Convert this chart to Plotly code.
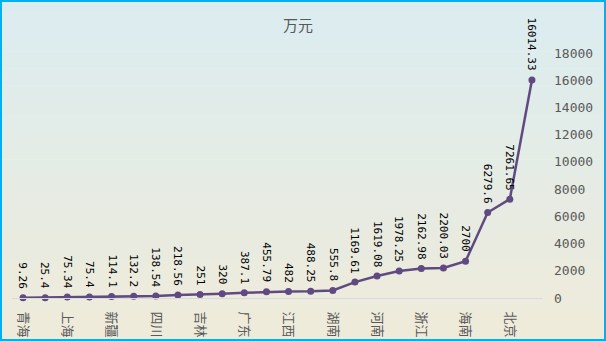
import plotly.graph_objects as go

# Province labels shown on every second tick, and values (万元) for all 24 points
tick_labels = ["青海", "上海", "新疆", "四川", "吉林", "广东",
               "江西", "湖南", "河南", "浙江", "海南", "北京"]
values = [9.26, 25.4, 75.34, 75.4, 114.1, 132.2, 138.54, 218.56, 251, 320,
          387.1, 455.79, 482, 488.25, 555.8, 1169.61, 1619.08, 1978.25,
          2162.98, 2200.03, 2700, 6279.6, 7261.65, 16014.33]
value_text = ["9.26", "25.4", "75.34", "75.4", "114.1", "132.2", "138.54",
              "218.56", "251", "320", "387.1", "455.79", "482", "488.25",
              "555.8", "1169.61", "1619.08", "1978.25", "2162.98", "2200.03",
              "2700", "6279.6", "7261.65", "16014.33"]
y_ticks = list(range(0, 18001, 2000))

W, H = 606, 341
ML, MR, MT, MB = 12, 63, 53, 43
PW, PH = W - ML - MR, H - MT - MB

def px_x(p):
    return (p - ML) / PW

def px_y(p):
    return 1 - (p - MT) / PH

LINE = "#5f4a82"
x = list(range(len(values)))

fig = go.Figure()
fig.add_trace(go.Scatter(
    x=x, y=values, mode="lines+markers",
    line=dict(color=LINE, width=2.5),
    marker=dict(color=LINE, size=7),
    hoverinfo="skip", showlegend=False, cliponaxis=False,
))

# vertical gradient background, light blue at top to beige at bottom
shapes = []
top = (219, 236, 240)
bot = (239, 235, 218)
n = 60
for k in range(n):
    t = k / (n - 1)
    c = tuple(round(top[j] + (bot[j] - top[j]) * t) for j in range(3))
    y0 = k * H / n
    y1 = (k + 1) * H / n + 0.6
    shapes.append(dict(
        type="rect", xref="paper", yref="paper", layer="below",
        x0=px_x(0), x1=px_x(W), y0=px_y(y1), y1=px_y(y0),
        line=dict(width=0), fillcolor="rgb(%d,%d,%d)" % c,
    ))
# outer border
shapes.append(dict(
    type="rect", xref="paper", yref="paper", layer="above",
    x0=px_x(1), x1=px_x(W - 1), y0=px_y(H - 1), y1=px_y(1),
    line=dict(color="#00b0f0", width=2), fillcolor="rgba(0,0,0,0)",
))

annotations = []
for i, (v, t) in enumerate(zip(values, value_text)):
    annotations.append(dict(
        x=i, y=v, xref="x", yref="y", text=t, showarrow=False,
        textangle=90, xanchor="center", yanchor="bottom", yshift=7,
        font=dict(family="DejaVu Sans Mono", size=11, color="#000000"),
    ))
annotations.append(dict(
    x=px_x(298), y=px_y(25), xref="paper", yref="paper", text="万元",
    showarrow=False, xanchor="center", yanchor="middle",
    font=dict(family="Noto Sans CJK SC", size=15, color="#595959"),
))

fig.update_layout(
    width=W, height=H,
    margin=dict(l=ML, r=MR, t=MT, b=MB, pad=0, autoexpand=False),
    paper_bgcolor="rgba(0,0,0,0)", plot_bgcolor="rgba(0,0,0,0)",
    shapes=shapes, annotations=annotations,
    xaxis=dict(
        range=[-0.5, len(values) - 0.5], automargin=False,
        tickmode="array", tickvals=x[::2], ticktext=tick_labels,
        tickangle=90, showgrid=False, zeroline=False,
        showline=True, linecolor="#d9d9d9", linewidth=1, ticks="",
        ticklabelstandoff=10,
        tickfont=dict(family="Noto Sans CJK SC", size=13, color="#595959"),
    ),
    yaxis=dict(
        range=[0, 18000], side="right", automargin=False,
        tickmode="array", tickvals=y_ticks, ticktext=[str(v) for v in y_ticks],
        showgrid=False, zeroline=False, showline=False, ticks="",
        ticklabelstandoff=10,
        tickfont=dict(family="DejaVu Sans Mono", size=13, color="#595959"),
    ),
    font=dict(family="DejaVu Sans Mono"),
)

fig.write_html("out.html")
